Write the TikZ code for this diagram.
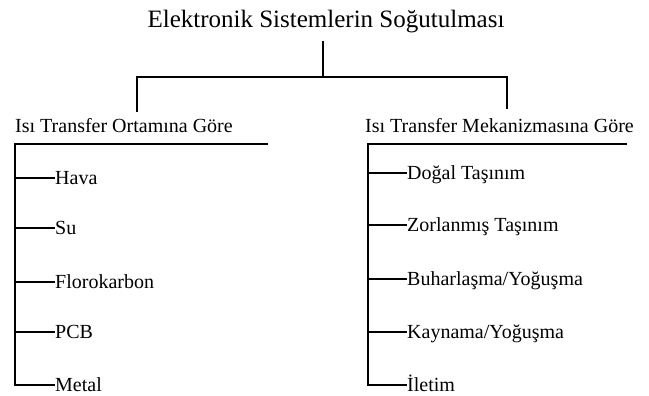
\documentclass[tikz,border=0pt]{standalone}
\usepackage{fontspec}
\setmainfont{Liberation Serif}
\tikzset{
  thick line/.style={line width=2pt, line cap=rect},
  thin line/.style={line width=1.5pt},
  title text/.style={inner sep=0pt, anchor=base, font=\fontsize{25}{29}\selectfont},
  head text/.style={inner sep=0pt, anchor=base west, font=\fontsize{20}{24}\selectfont},
  item text/.style={inner sep=0pt, anchor=base west, font=\fontsize{20}{24}\selectfont},
}
\begin{document}
\begin{tikzpicture}[x=1pt,y=-1pt]
\useasboundingbox (0,0) rectangle (649,396);
% title
\node[title text] (t) at (326,28) {Elektronik Sistemlerin Soğutulması};
\coordinate (ts) at (323,42);
\coordinate (bar) at (323,77);
\coordinate (ltop) at (137,77);
\coordinate (rtop) at (507,77);
\coordinate (lleg) at (137,111);
\coordinate (rleg) at (507,108);
\draw[thick line] (ts) -- (bar);
\draw[thick line] (lleg) -- (ltop) -- (rtop) -- (rleg);
% heads
\node[head text] (l) at (15,132) {Isı Transfer Ortamına Göre};
\node[head text] (r) at (365,132) {Isı Transfer Mekanizmasına Göre};
% left list
\coordinate (la) at (15,144);
\coordinate (lb) at (267,144);
\coordinate (lz) at (15,385);
\draw[thick line] (lb) -- (la) -- (lz);
\foreach \n/\y/\txt in {l1/178/{Hava}, l2/228/{Su}, l3/282/{Florokarbon}, l4/332/{PCB}, l5/385/{Metal}}{
  \node[item text] (\n) at (55,\y+6.5) {\txt};
  \coordinate (\n s) at (15,\y);
  \draw[thin line] (\n s) -- (\n.west |- \n s);
}
% right list
\coordinate (ra) at (368,144);
\coordinate (rb) at (627,144);
\coordinate (rz) at (368,385);
\draw[thin line] (rb) -- (ra);
\draw[thick line] (ra) -- (rz);
\foreach \n/\y/\txt in {r1/173/{Doğal Taşınım}, r2/225/{Zorlanmış Taşınım}, r3/279/{Buharlaşma/Yoğuşma}, r4/332/{Kaynama/Yoğuşma}, r5/385/{İletim}}{
  \node[item text] (\n) at (407,\y+6.5) {\txt};
  \coordinate (\n s) at (368,\y);
  \draw[thin line] (\n s) -- (\n.west |- \n s);
}
\end{tikzpicture}
\end{document}
